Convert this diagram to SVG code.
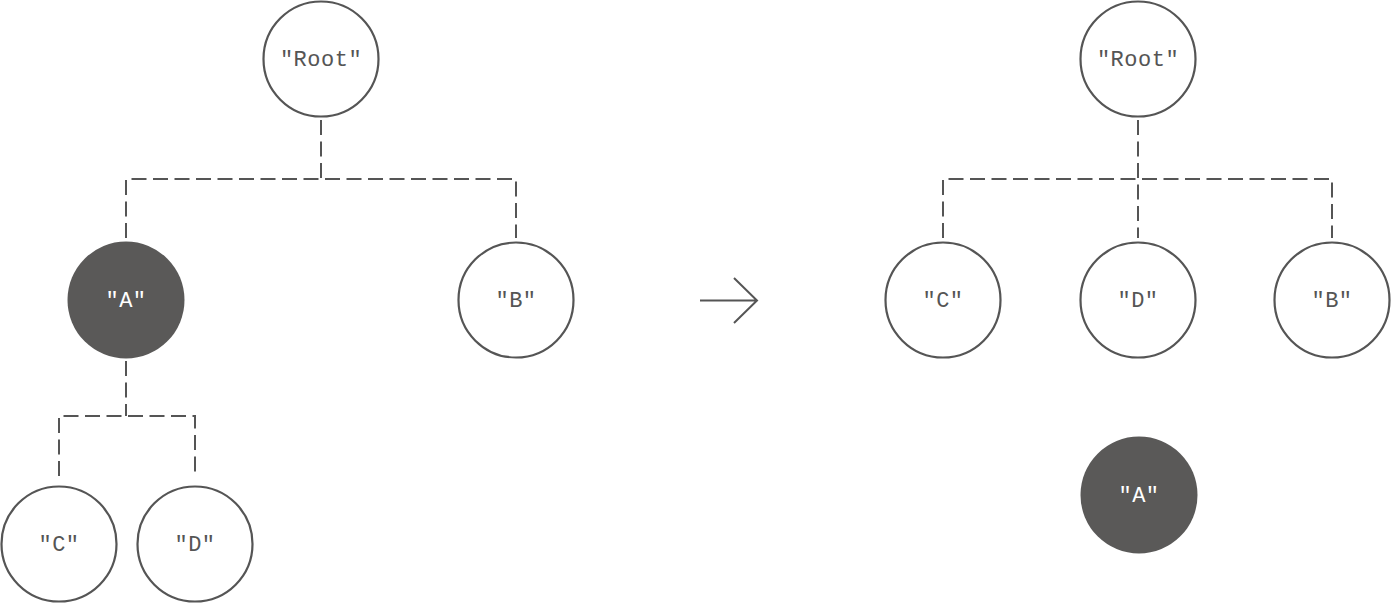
<svg xmlns="http://www.w3.org/2000/svg" width="1392" height="603" viewBox="0 0 1392 603">
<style>
.n{fill:#fff;stroke:#555;stroke-width:2.2}
.f{fill:#5a5958;stroke:none}
.t{font-family:"Liberation Mono","DejaVu Sans Mono",monospace;font-size:22px;fill:#555;text-anchor:middle;letter-spacing:0.5px}
.tw{fill:#fff}
.c{fill:none;stroke:#555;stroke-width:2;stroke-dasharray:15 6.5}
.a{fill:none;stroke:#555;stroke-width:2}
</style>
<rect width="1392" height="603" fill="#fff"/>
<g id="connectors">
<path class="c" d="M321,120 V179"/>
<path class="c" d="M126,238 V179 H516 V238"/>
<path class="c" d="M126,361 V416"/>
<path class="c" d="M59,476 V416 H195 V476"/>
<path class="c" d="M1138,120 V238"/>
<path class="c" d="M943,238 V179 H1332 V238"/>
<path class="a" d="M700,300.5 H757 M734,278 L757,300.5 L734,323"/>
</g>
<g id="left-root"><circle class="n" cx="321" cy="59" r="57.5"/><text class="t" x="321" y="66">"Root"</text></g>
<g id="left-a"><circle class="f" cx="126" cy="300" r="58.5"/><text class="t tw" x="126" y="307">"A"</text></g>
<g id="left-b"><circle class="n" cx="516" cy="300" r="57.5"/><text class="t" x="516" y="307">"B"</text></g>
<g id="left-c"><circle class="n" cx="59" cy="544" r="57.5"/><text class="t" x="59" y="551">"C"</text></g>
<g id="left-d"><circle class="n" cx="195" cy="544" r="57.5"/><text class="t" x="195" y="551">"D"</text></g>
<g id="right-root"><circle class="n" cx="1138" cy="59" r="57.5"/><text class="t" x="1138" y="66">"Root"</text></g>
<g id="right-c"><circle class="n" cx="943" cy="300" r="57.5"/><text class="t" x="943" y="307">"C"</text></g>
<g id="right-d"><circle class="n" cx="1138" cy="300" r="57.5"/><text class="t" x="1138" y="307">"D"</text></g>
<g id="right-b"><circle class="n" cx="1332" cy="300" r="57.5"/><text class="t" x="1332" y="307">"B"</text></g>
<g id="right-a"><circle class="f" cx="1139" cy="495" r="58.5"/><text class="t tw" x="1139" y="502">"A"</text></g>
</svg>
